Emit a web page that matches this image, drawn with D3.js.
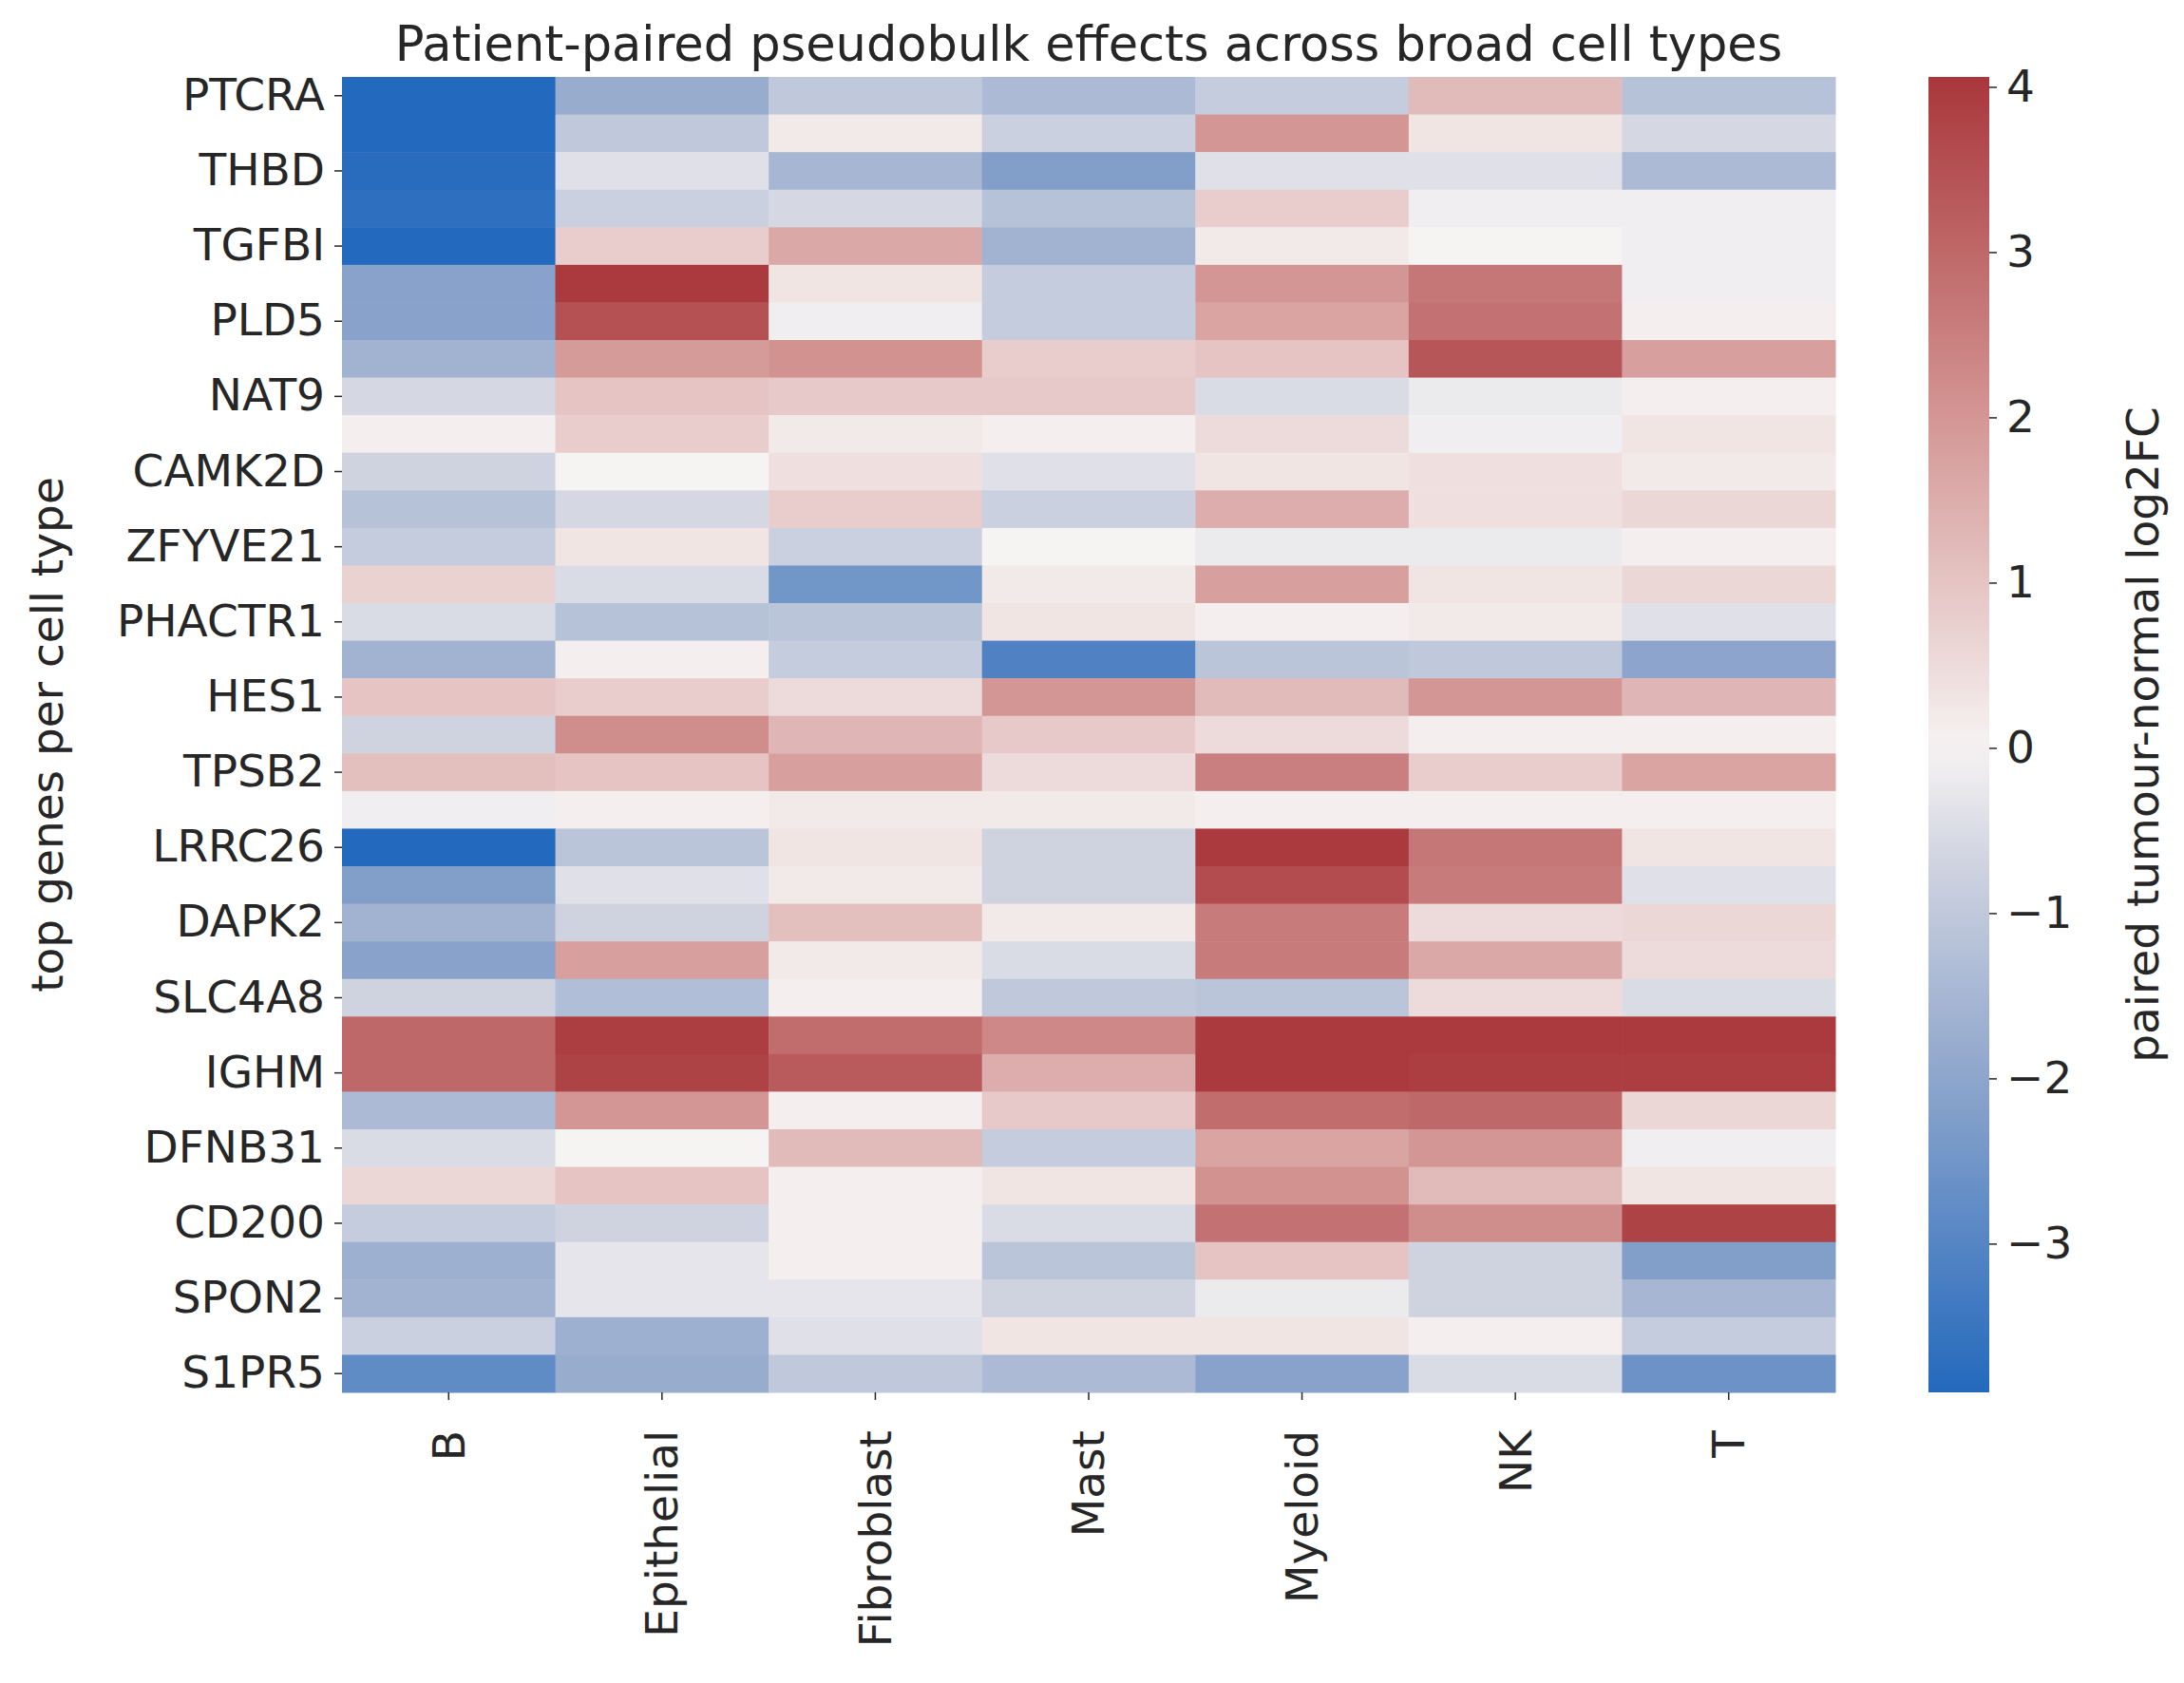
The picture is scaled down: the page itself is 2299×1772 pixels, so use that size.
<!DOCTYPE html>
<html><head><meta charset="utf-8">
<script src="https://cdn.jsdelivr.net/npm/d3@7"></script>
<style>body{margin:0;background:#fff;} text{font-family:"DejaVu Sans",sans-serif;fill:#262626;}</style>
</head><body><svg id="c" width="2299" height="1772"></svg>
<script>
var cellTypes = ["B","Epithelial","Fibroblast","Mast","Myeloid","NK","T"];
// 35 rows, only every other one is labelled in the reference
var genes = ["PTCRA","g02","THBD","g04","TGFBI","g06","PLD5","g08","NAT9","g10","CAMK2D","g12",
  "ZFYVE21","g14","PHACTR1","g16","HES1","g18","TPSB2","g20","LRRC26","g22","DAPK2","g24",
  "SLC4A8","g26","IGHM","g28","DFNB31","g30","CD200","g32","SPON2","g34","S1PR5"];
var values = [
 [-3.9,-1.8,-1.0,-1.4,-0.9,1.2,-1.2],
 [-3.9,-1.0,0.2,-0.8,2.0,0.3,-0.6],
 [-3.8,-0.4,-1.5,-2.2,-0.4,-0.4,-1.4],
 [-3.7,-0.8,-0.6,-1.2,0.8,-0.1,-0.1],
 [-3.9,0.8,1.6,-1.6,0.2,0.0,-0.1],
 [-2.1,4.0,0.3,-0.9,2.0,2.7,-0.1],
 [-2.1,3.5,-0.1,-0.9,1.7,2.8,0.1],
 [-1.6,1.9,2.1,0.8,1.0,3.4,1.8],
 [-0.6,1.0,0.9,0.9,-0.5,-0.2,0.1],
 [0.1,0.8,0.2,0.1,0.5,-0.1,0.3],
 [-0.7,0.0,0.4,-0.4,0.3,0.4,0.2],
 [-1.2,-0.6,0.8,-0.8,1.5,0.4,0.6],
 [-0.9,0.3,-0.8,0.0,-0.2,-0.2,0.1],
 [0.7,-0.5,-2.5,0.2,1.8,0.3,0.6],
 [-0.5,-1.2,-1.1,0.3,0.1,0.2,-0.4],
 [-1.6,0.1,-0.9,-3.1,-1.1,-1.0,-2.0],
 [1.0,0.8,0.5,2.0,1.2,2.0,1.3],
 [-0.7,2.2,1.3,0.9,0.5,0.1,0.1],
 [1.1,1.0,1.8,0.5,2.5,0.8,1.7],
 [-0.1,0.1,0.2,0.2,0.1,0.1,0.1],
 [-3.9,-1.1,0.3,-0.7,4.0,2.7,0.3],
 [-2.2,-0.4,0.2,-0.7,3.6,2.6,-0.4],
 [-1.6,-0.7,1.1,0.2,2.6,0.5,0.6],
 [-2.1,1.8,0.2,-0.5,2.6,1.6,0.5],
 [-0.7,-1.3,0.1,-1.0,-1.1,0.5,-0.5],
 [3.0,3.9,2.9,2.3,4.0,4.0,4.0],
 [3.0,3.8,3.3,1.5,4.0,3.9,3.9],
 [-1.4,2.0,0.1,0.9,2.9,3.0,0.6],
 [-0.5,0.0,1.2,-0.9,1.7,2.0,-0.1],
 [0.6,1.0,0.1,0.3,2.1,1.2,0.3],
 [-0.9,-0.7,0.1,-0.5,2.8,2.2,3.8],
 [-1.7,-0.3,0.1,-1.1,1.0,-0.7,-2.2],
 [-1.6,-0.3,-0.3,-0.7,-0.2,-0.7,-1.5],
 [-0.8,-1.7,-0.4,0.3,0.3,0.1,-0.9],
 [-2.8,-1.8,-1.0,-1.4,-2.1,-0.5,-2.6]
];
var cbTicks = [-3,-2,-1,0,1,2,3,4];
var vmin = -3.9, vmax = 4.06;

var svg = d3.select("#c");
var L = 360, R = 1932, T = 81, B = 1466;
var x = d3.scaleBand().domain(cellTypes).range([L, R]);
var y = d3.scaleBand().domain(genes).range([T, B]);
var col = d3.scaleLinear().domain([vmin, vmin/2, vmin/6, 0, vmax/6, vmax/2, vmax])
  .range(["#2369bd","#90a7cc","#d2d5e1","#f6f3f3","#ead3d2","#d39593","#a9373b"]).clamp(true);

var cells = [];
values.forEach(function(r, i) { r.forEach(function(v, j) { cells.push({g: genes[i], c: cellTypes[j], v: v}); }); });
svg.append("g").selectAll("rect").data(cells).enter().append("rect")
  .attr("x", function(d) { return x(d.c); }).attr("y", function(d) { return y(d.g); })
  .attr("width", x.bandwidth() + 0.5).attr("height", y.bandwidth() + 0.5)
  .attr("fill", function(d) { return col(d.v); });

var fs = 47;
var xa = svg.append("g").attr("transform", "translate(0," + B + ")")
  .call(d3.axisBottom(x).tickSize(8).tickPadding(10));
xa.select(".domain").remove();
xa.selectAll("line").attr("stroke", "#262626").attr("stroke-width", 1.5);
xa.selectAll("text").style("font-size", fs + "px").attr("transform", "rotate(-90)")
  .attr("text-anchor", "end").attr("dy", "0.35em").attr("x", -40).attr("y", 0);

var ya = svg.append("g").attr("transform", "translate(" + L + ",0)")
  .call(d3.axisLeft(y).tickValues(genes.filter(function(g, i) { return i % 2 == 0; })).tickSize(8).tickPadding(10));
ya.select(".domain").remove();
ya.selectAll("line").attr("stroke", "#262626").attr("stroke-width", 1.5);
ya.selectAll("text").style("font-size", fs + "px");

svg.append("text").attr("x", (L + R) / 2).attr("y", 64).attr("text-anchor", "middle")
  .style("font-size", "51px").text("Patient-paired pseudobulk effects across broad cell types");
svg.append("text").attr("transform", "translate(66," + (T + B) / 2 + ") rotate(-90)")
  .attr("text-anchor", "middle").style("font-size", fs + "px").text("top genes per cell type");

// colorbar
var cbx = 2030, cbw = 64;
var cy = d3.scaleLinear().domain([vmin, vmax]).range([B, T]);
var defs = svg.append("defs");
var grad = defs.append("linearGradient").attr("id", "gr").attr("x1", 0).attr("y1", 1).attr("x2", 0).attr("y2", 0);
d3.range(0, 1.0001, 0.02).forEach(function(t) {
  grad.append("stop").attr("offset", t).attr("stop-color", col(vmin + t * (vmax - vmin)));
});
svg.append("rect").attr("x", cbx).attr("y", T).attr("width", cbw).attr("height", B - T).attr("fill", "url(#gr)");
var ca = svg.append("g").attr("transform", "translate(" + (cbx + cbw) + ",0)")
  .call(d3.axisRight(cy).tickValues(cbTicks).tickSize(8).tickPadding(10).tickFormat(function(d) { return d < 0 ? "\u2212" + (-d) : d; }));
ca.select(".domain").remove();
ca.selectAll("line").attr("stroke", "#262626").attr("stroke-width", 1.5);
ca.selectAll("text").style("font-size", fs + "px");
svg.append("text").attr("transform", "translate(2272," + (T + B) / 2 + ") rotate(-90)")
  .attr("text-anchor", "middle").style("font-size", fs + "px").text("paired tumour-normal log2FC");
</script></body></html>
